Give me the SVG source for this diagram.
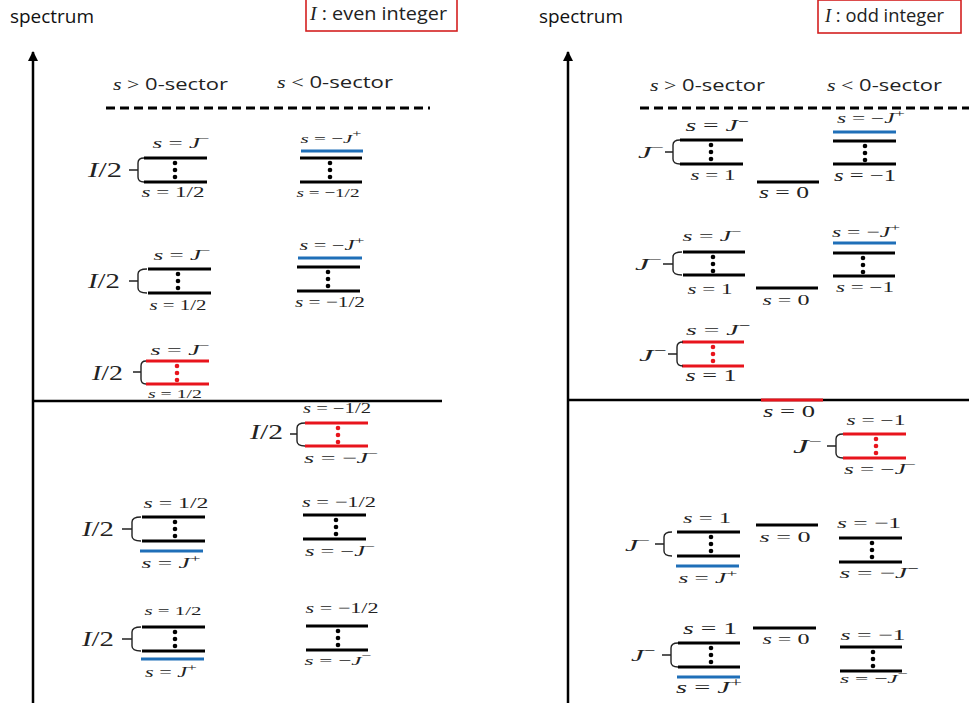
<svg xmlns="http://www.w3.org/2000/svg" width="969" height="706" viewBox="0 0 969 706">
<style>
.lv{stroke:#000;stroke-width:3}
.lb{stroke:#1f6fb8;stroke-width:3}
.lr{stroke:#e8141c;stroke-width:3}
.d{fill:#000}
.dr{fill:#e8141c}
.br{fill:none;stroke:#222;stroke-width:1.4}
.ax{stroke:#000;stroke-width:2.5;fill:none}
.dash{stroke:#000;stroke-width:3;stroke-dasharray:9 5}
.m{font-family:"Liberation Serif","Times New Roman",serif;font-style:italic;fill:#222}
.u{font-style:normal}
.c{text-anchor:middle}
.e{text-anchor:end}
.sans{font-family:"Open Sans","Liberation Sans",sans-serif;fill:#111}
.box{fill:none;stroke:#d42020;stroke-width:1.6}
</style>
<defs>
<marker id="arr" viewBox="0 0 10 10" refX="9" refY="5" markerWidth="4" markerHeight="5" orient="auto" markerUnits="strokeWidth">
<path d="M0,0 L10,5 L0,10 z" fill="#000"/>
</marker>
</defs>
<rect width="969" height="706" fill="#fff"/>

<g id="headers">
<text class="sans" x="10" y="23" font-size="18" textLength="84" lengthAdjust="spacingAndGlyphs">spectrum</text>
<rect class="box" x="306" y="-1" width="151" height="32"/>
<text class="m" x="310" y="20" font-size="18" textLength="137" lengthAdjust="spacingAndGlyphs">I<tspan class="u" font-family="Open Sans, Liberation Sans, sans-serif"> : even integer</tspan></text>
<text class="sans" x="539" y="23" font-size="18" textLength="84" lengthAdjust="spacingAndGlyphs">spectrum</text>
<rect class="box" x="818" y="0" width="143" height="33"/>
<text class="m" x="825" y="22" font-size="18" textLength="119" lengthAdjust="spacingAndGlyphs">I<tspan class="u" font-family="Open Sans, Liberation Sans, sans-serif"> : odd integer</tspan></text>
<text class="m" x="113" y="90" font-size="17" textLength="115" lengthAdjust="spacingAndGlyphs">s <tspan class="u">&gt;</tspan><tspan class="u" font-family="Open Sans, Liberation Sans, sans-serif"> 0-sector</tspan></text>
<text class="m" x="277" y="88" font-size="17" textLength="116" lengthAdjust="spacingAndGlyphs">s <tspan class="u">&lt;</tspan><tspan class="u" font-family="Open Sans, Liberation Sans, sans-serif"> 0-sector</tspan></text>
<text class="m" x="650" y="91" font-size="17" textLength="115" lengthAdjust="spacingAndGlyphs">s <tspan class="u">&gt;</tspan><tspan class="u" font-family="Open Sans, Liberation Sans, sans-serif"> 0-sector</tspan></text>
<text class="m" x="827" y="91" font-size="17" textLength="115" lengthAdjust="spacingAndGlyphs">s <tspan class="u">&lt;</tspan><tspan class="u" font-family="Open Sans, Liberation Sans, sans-serif"> 0-sector</tspan></text>
</g>

<g id="axes">
<line class="ax" x1="33" y1="703" x2="33" y2="52" marker-end="url(#arr)"/>
<line class="ax" x1="33" y1="401" x2="442" y2="401"/>
<line class="dash" x1="106" y1="108" x2="430" y2="108"/>
<line class="ax" x1="568" y1="703" x2="568" y2="52" marker-end="url(#arr)"/>
<line class="ax" x1="568" y1="400" x2="969" y2="400"/>
<line class="dash" x1="640" y1="108" x2="969" y2="108"/>
</g>

<!-- LEFT PANEL -->
<g id="L1">
<line class="lv" x1="144" y1="158" x2="207" y2="158"/><line class="lv" x1="144" y1="182" x2="207" y2="182"/>
<circle class="d" cx="175" cy="163" r="2.3"/><circle class="d" cx="175" cy="170" r="2.3"/><circle class="d" cx="175" cy="177" r="2.3"/>
<path class="br" d="M144,158 Q138,158 138,163 V177 Q138,182 144,182 M138,170 H129"/>
<text class="m" x="88" y="177" font-size="21" textLength="34" lengthAdjust="spacingAndGlyphs">I<tspan class="u">/2</tspan></text>
<text class="m c" x="181" y="148" font-size="15" textLength="57" lengthAdjust="spacingAndGlyphs">s <tspan class="u">=</tspan> J<tspan class="u" font-size="10" dy="-6">−</tspan></text>
<text class="m c" x="173" y="197" font-size="15" textLength="63" lengthAdjust="spacingAndGlyphs">s <tspan class="u">= 1/2</tspan></text>
</g>
<g id="R1">
<line class="lb" x1="301" y1="151" x2="363" y2="151"/>
<line class="lv" x1="300" y1="158" x2="362" y2="158"/><line class="lv" x1="300" y1="182" x2="362" y2="182"/>
<circle class="d" cx="330" cy="163" r="2.3"/><circle class="d" cx="330" cy="170" r="2.3"/><circle class="d" cx="330" cy="177" r="2.3"/>
<text class="m c" x="331" y="143" font-size="13" textLength="61" lengthAdjust="spacingAndGlyphs">s <tspan class="u">= −</tspan>J<tspan class="u" font-size="10" dy="-6">+</tspan></text>
<text class="m c" x="328" y="197" font-size="13" textLength="63" lengthAdjust="spacingAndGlyphs">s <tspan class="u">= −1/2</tspan></text>
</g>
<g id="L2">
<line class="lv" x1="148" y1="269" x2="211" y2="269"/><line class="lv" x1="148" y1="293" x2="211" y2="293"/>
<circle class="d" cx="178" cy="274" r="2.3"/><circle class="d" cx="178" cy="281" r="2.3"/><circle class="d" cx="178" cy="288" r="2.3"/>
<path class="br" d="M147,269 Q138,269 138,274 V288 Q138,293 147,293 M138,281 H129"/>
<text class="m" x="88" y="288" font-size="21" textLength="32" lengthAdjust="spacingAndGlyphs">I<tspan class="u">/2</tspan></text>
<text class="m c" x="182" y="260" font-size="15" textLength="57" lengthAdjust="spacingAndGlyphs">s <tspan class="u">=</tspan> J<tspan class="u" font-size="10" dy="-6">−</tspan></text>
<text class="m c" x="178" y="310" font-size="14" textLength="57" lengthAdjust="spacingAndGlyphs">s <tspan class="u">= 1/2</tspan></text>
</g>
<g id="R2">
<line class="lb" x1="298" y1="258" x2="362" y2="258"/>
<line class="lv" x1="297" y1="267" x2="360" y2="267"/><line class="lv" x1="297" y1="291" x2="360" y2="291"/>
<circle class="d" cx="328" cy="272" r="2.3"/><circle class="d" cx="328" cy="279" r="2.3"/><circle class="d" cx="328" cy="286" r="2.3"/>
<text class="m c" x="332" y="250" font-size="14" textLength="65" lengthAdjust="spacingAndGlyphs">s <tspan class="u">= −</tspan>J<tspan class="u" font-size="11" dy="-6">+</tspan></text>
<text class="m c" x="330" y="307" font-size="15" textLength="70" lengthAdjust="spacingAndGlyphs">s <tspan class="u">= −1/2</tspan></text>
</g>
<g id="L3">
<line class="lr" x1="146" y1="361" x2="209" y2="361"/><line class="lr" x1="146" y1="384" x2="209" y2="384"/>
<circle class="dr" cx="177" cy="366" r="2.3"/><circle class="dr" cx="177" cy="373" r="2.3"/><circle class="dr" cx="177" cy="380" r="2.3"/>
<path class="br" d="M146,361 Q141,361 141,366 V379 Q141,384 146,384 M141,372 H133"/>
<text class="m" x="92" y="380" font-size="21" textLength="31" lengthAdjust="spacingAndGlyphs">I<tspan class="u">/2</tspan></text>
<text class="m c" x="180" y="355" font-size="15" textLength="59" lengthAdjust="spacingAndGlyphs">s <tspan class="u">=</tspan> J<tspan class="u" font-size="10" dy="-6">−</tspan></text>
<text class="m c" x="175" y="398" font-size="13" textLength="54" lengthAdjust="spacingAndGlyphs">s <tspan class="u">= 1/2</tspan></text>
</g>
<g id="R3">
<line class="lr" x1="305" y1="423" x2="368" y2="423"/><line class="lr" x1="305" y1="446" x2="368" y2="446"/>
<circle class="dr" cx="338" cy="428" r="2.3"/><circle class="dr" cx="338" cy="435" r="2.3"/><circle class="dr" cx="338" cy="442" r="2.3"/>
<path class="br" d="M305,423 Q297,423 297,428 V441 Q297,446 305,446 M297,434 H290"/>
<text class="m" x="250" y="439" font-size="21" textLength="33" lengthAdjust="spacingAndGlyphs">I<tspan class="u">/2</tspan></text>
<text class="m c" x="337" y="413" font-size="14" textLength="68" lengthAdjust="spacingAndGlyphs">s <tspan class="u">= −1/2</tspan></text>
<text class="m c" x="341" y="463" font-size="15" textLength="74" lengthAdjust="spacingAndGlyphs">s <tspan class="u">= −</tspan>J<tspan class="u" font-size="10" dy="-6">−</tspan></text>
</g>
<g id="L4">
<line class="lv" x1="142" y1="517" x2="205" y2="517"/><line class="lv" x1="142" y1="541" x2="205" y2="541"/>
<line class="lb" x1="140" y1="551" x2="203" y2="551"/>
<circle class="d" cx="175" cy="522" r="2.3"/><circle class="d" cx="175" cy="529" r="2.3"/><circle class="d" cx="175" cy="536" r="2.3"/>
<path class="br" d="M141,517 Q132,517 132,522 V536 Q132,541 141,541 M132,529 H122"/>
<text class="m" x="82" y="536" font-size="21" textLength="32" lengthAdjust="spacingAndGlyphs">I<tspan class="u">/2</tspan></text>
<text class="m c" x="176" y="508" font-size="15" textLength="65" lengthAdjust="spacingAndGlyphs">s <tspan class="u">= 1/2</tspan></text>
<text class="m c" x="171" y="568" font-size="15" textLength="59" lengthAdjust="spacingAndGlyphs">s <tspan class="u">=</tspan> J<tspan class="u" font-size="11" dy="-6">+</tspan></text>
</g>
<g id="R4">
<line class="lv" x1="303" y1="515" x2="366" y2="515"/><line class="lv" x1="303" y1="539" x2="366" y2="539"/>
<circle class="d" cx="336" cy="520" r="2.3"/><circle class="d" cx="336" cy="527" r="2.3"/><circle class="d" cx="336" cy="534" r="2.3"/>
<text class="m c" x="339" y="507" font-size="15" textLength="74" lengthAdjust="spacingAndGlyphs">s <tspan class="u">= −1/2</tspan></text>
<text class="m c" x="340" y="556" font-size="14" textLength="70" lengthAdjust="spacingAndGlyphs">s <tspan class="u">= −</tspan>J<tspan class="u" font-size="10" dy="-6">−</tspan></text>
</g>
<g id="L5">
<line class="lv" x1="142" y1="627" x2="205" y2="627"/><line class="lv" x1="142" y1="651" x2="205" y2="651"/>
<line class="lb" x1="141" y1="659" x2="204" y2="659"/>
<circle class="d" cx="175" cy="632" r="2.3"/><circle class="d" cx="175" cy="639" r="2.3"/><circle class="d" cx="175" cy="646" r="2.3"/>
<path class="br" d="M141,627 Q132,627 132,632 V646 Q132,651 141,651 M132,639 H122"/>
<text class="m" x="82" y="646" font-size="21" textLength="32" lengthAdjust="spacingAndGlyphs">I<tspan class="u">/2</tspan></text>
<text class="m c" x="173" y="615" font-size="13" textLength="57" lengthAdjust="spacingAndGlyphs">s <tspan class="u">= 1/2</tspan></text>
<text class="m c" x="171" y="677" font-size="14" textLength="52" lengthAdjust="spacingAndGlyphs">s <tspan class="u">=</tspan> J<tspan class="u" font-size="11" dy="-6">+</tspan></text>
</g>
<g id="R5">
<line class="lv" x1="306" y1="626" x2="368" y2="626"/><line class="lv" x1="306" y1="650" x2="368" y2="650"/>
<circle class="d" cx="338" cy="631" r="2.3"/><circle class="d" cx="338" cy="638" r="2.3"/><circle class="d" cx="338" cy="645" r="2.3"/>
<text class="m c" x="342" y="613" font-size="15" textLength="73" lengthAdjust="spacingAndGlyphs">s <tspan class="u">= −1/2</tspan></text>
<text class="m c" x="338" y="665" font-size="13" textLength="67" lengthAdjust="spacingAndGlyphs">s <tspan class="u">= −</tspan>J<tspan class="u" font-size="10" dy="-6">−</tspan></text>
</g>

<!-- RIGHT PANEL -->
<g id="RL1">
<line class="lv" x1="680" y1="140" x2="743" y2="140"/><line class="lv" x1="680" y1="164" x2="743" y2="164"/>
<circle class="d" cx="711" cy="145" r="2.3"/><circle class="d" cx="711" cy="152" r="2.3"/><circle class="d" cx="711" cy="159" r="2.3"/>
<path class="br" d="M680,140 Q673,140 673,145 V159 Q673,164 680,164 M673,152 H665"/>
<text class="m" x="638" y="158" font-size="17" textLength="26" lengthAdjust="spacingAndGlyphs">J<tspan class="u" font-size="12" dy="-7">−</tspan></text>
<text class="m c" x="717" y="131" font-size="16" textLength="63" lengthAdjust="spacingAndGlyphs">s <tspan class="u">=</tspan> J<tspan class="u" font-size="11" dy="-6">−</tspan></text>
<text class="m c" x="713" y="180" font-size="15" textLength="45" lengthAdjust="spacingAndGlyphs">s <tspan class="u">= 1</tspan></text>
</g>
<g id="RM1">
<line class="lv" x1="757" y1="182" x2="819" y2="182"/>
<text class="m c" x="784" y="198" font-size="16" textLength="50" lengthAdjust="spacingAndGlyphs">s <tspan class="u">= 0</tspan></text>
</g>
<g id="RR1">
<line class="lb" x1="833" y1="132" x2="896" y2="132"/>
<line class="lv" x1="833" y1="141" x2="896" y2="141"/><line class="lv" x1="833" y1="164" x2="896" y2="164"/>
<circle class="d" cx="865" cy="146" r="2.3"/><circle class="d" cx="865" cy="153" r="2.3"/><circle class="d" cx="865" cy="160" r="2.3"/>
<text class="m c" x="871" y="123" font-size="14" textLength="68" lengthAdjust="spacingAndGlyphs">s <tspan class="u">= −</tspan>J<tspan class="u" font-size="11" dy="-6">+</tspan></text>
<text class="m c" x="865" y="181" font-size="16" textLength="62" lengthAdjust="spacingAndGlyphs">s <tspan class="u">= −1</tspan></text>
</g>
<g id="RL2">
<line class="lv" x1="683" y1="252" x2="745" y2="252"/><line class="lv" x1="683" y1="275" x2="745" y2="275"/>
<circle class="d" cx="713" cy="257" r="2.3"/><circle class="d" cx="713" cy="264" r="2.3"/><circle class="d" cx="713" cy="271" r="2.3"/>
<path class="br" d="M682,252 Q673,252 673,257 V270 Q673,275 682,275 M673,264 H663"/>
<text class="m" x="635" y="270" font-size="17" textLength="27" lengthAdjust="spacingAndGlyphs">J<tspan class="u" font-size="12" dy="-7">−</tspan></text>
<text class="m c" x="712" y="241" font-size="14" textLength="59" lengthAdjust="spacingAndGlyphs">s <tspan class="u">=</tspan> J<tspan class="u" font-size="10" dy="-6">−</tspan></text>
<text class="m c" x="710" y="294" font-size="15" textLength="45" lengthAdjust="spacingAndGlyphs">s <tspan class="u">= 1</tspan></text>
</g>
<g id="RM2">
<line class="lv" x1="756" y1="288" x2="818" y2="288"/>
<text class="m c" x="786" y="305" font-size="15" textLength="47" lengthAdjust="spacingAndGlyphs">s <tspan class="u">= 0</tspan></text>
</g>
<g id="RR2">
<line class="lb" x1="833" y1="243" x2="896" y2="243"/>
<line class="lv" x1="833" y1="253" x2="895" y2="253"/><line class="lv" x1="833" y1="276" x2="895" y2="276"/>
<circle class="d" cx="863" cy="258" r="2.3"/><circle class="d" cx="863" cy="265" r="2.3"/><circle class="d" cx="863" cy="272" r="2.3"/>
<text class="m c" x="866" y="237" font-size="15" textLength="68" lengthAdjust="spacingAndGlyphs">s <tspan class="u">= −</tspan>J<tspan class="u" font-size="11" dy="-6">+</tspan></text>
<text class="m c" x="865" y="292" font-size="14" textLength="58" lengthAdjust="spacingAndGlyphs">s <tspan class="u">= −1</tspan></text>
</g>
<g id="RL3">
<line class="lr" x1="682" y1="342" x2="744" y2="342"/><line class="lr" x1="682" y1="366" x2="744" y2="366"/>
<circle class="dr" cx="713" cy="347" r="2.3"/><circle class="dr" cx="713" cy="354" r="2.3"/><circle class="dr" cx="713" cy="361" r="2.3"/>
<path class="br" d="M683,342 Q677,342 677,347 V361 Q677,366 683,366 M677,354 H668"/>
<text class="m" x="639" y="361" font-size="16" textLength="27" lengthAdjust="spacingAndGlyphs">J<tspan class="u" font-size="11" dy="-7">−</tspan></text>
<text class="m c" x="718" y="335" font-size="15" textLength="64" lengthAdjust="spacingAndGlyphs">s <tspan class="u">=</tspan> J<tspan class="u" font-size="11" dy="-6">−</tspan></text>
<text class="m c" x="711" y="381" font-size="16" textLength="51" lengthAdjust="spacingAndGlyphs">s <tspan class="u">= 1</tspan></text>
</g>
<g id="RM3">
<line class="lr" x1="761" y1="400" x2="823" y2="400"/>
<text class="m c" x="789" y="417" font-size="16" textLength="52" lengthAdjust="spacingAndGlyphs">s <tspan class="u">= 0</tspan></text>
</g>
<g id="RR3">
<line class="lr" x1="843" y1="434" x2="906" y2="434"/><line class="lr" x1="843" y1="458" x2="906" y2="458"/>
<circle class="dr" cx="876" cy="439" r="2.3"/><circle class="dr" cx="876" cy="446" r="2.3"/><circle class="dr" cx="876" cy="453" r="2.3"/>
<path class="br" d="M843,434 Q836,434 836,439 V453 Q836,458 843,458 M836,446 H827"/>
<text class="m" x="793" y="453" font-size="18" textLength="29" lengthAdjust="spacingAndGlyphs">J<tspan class="u" font-size="12" dy="-8">−</tspan></text>
<text class="m c" x="876" y="425" font-size="14" textLength="59" lengthAdjust="spacingAndGlyphs">s <tspan class="u">= −1</tspan></text>
<text class="m c" x="880" y="474" font-size="14" textLength="72" lengthAdjust="spacingAndGlyphs">s <tspan class="u">= −</tspan>J<tspan class="u" font-size="10" dy="-6">−</tspan></text>
</g>
<g id="RL4">
<line class="lv" x1="677" y1="532" x2="740" y2="532"/><line class="lv" x1="677" y1="556" x2="740" y2="556"/>
<line class="lb" x1="676" y1="566" x2="739" y2="566"/>
<circle class="d" cx="711" cy="537" r="2.3"/><circle class="d" cx="711" cy="544" r="2.3"/><circle class="d" cx="711" cy="551" r="2.3"/>
<path class="br" d="M672,532 Q664,532 664,537 V551 Q664,556 672,556 M664,544 H655"/>
<text class="m" x="625" y="551" font-size="17" textLength="25" lengthAdjust="spacingAndGlyphs">J<tspan class="u" font-size="12" dy="-7">−</tspan></text>
<text class="m c" x="707" y="523" font-size="15" textLength="48" lengthAdjust="spacingAndGlyphs">s <tspan class="u">= 1</tspan></text>
<text class="m c" x="708" y="583" font-size="14" textLength="59" lengthAdjust="spacingAndGlyphs">s <tspan class="u">=</tspan> J<tspan class="u" font-size="11" dy="-6">+</tspan></text>
</g>
<g id="RM4">
<line class="lv" x1="756" y1="525" x2="818" y2="525"/>
<text class="m c" x="785" y="542" font-size="15" textLength="51" lengthAdjust="spacingAndGlyphs">s <tspan class="u">= 0</tspan></text>
</g>
<g id="RR4">
<line class="lv" x1="839" y1="538" x2="902" y2="538"/><line class="lv" x1="839" y1="562" x2="902" y2="562"/>
<circle class="d" cx="872" cy="543" r="2.3"/><circle class="d" cx="872" cy="550" r="2.3"/><circle class="d" cx="872" cy="557" r="2.3"/>
<text class="m c" x="869" y="528" font-size="15" textLength="64" lengthAdjust="spacingAndGlyphs">s <tspan class="u">= −1</tspan></text>
<text class="m c" x="879" y="578" font-size="15" textLength="79" lengthAdjust="spacingAndGlyphs">s <tspan class="u">= −</tspan>J<tspan class="u" font-size="11" dy="-6">−</tspan></text>
</g>
<g id="RL5">
<line class="lv" x1="678" y1="643" x2="740" y2="643"/><line class="lv" x1="678" y1="667" x2="740" y2="667"/>
<line class="lb" x1="677" y1="677" x2="740" y2="677"/>
<circle class="d" cx="711" cy="648" r="2.3"/><circle class="d" cx="711" cy="655" r="2.3"/><circle class="d" cx="711" cy="662" r="2.3"/>
<path class="br" d="M678,643 Q671,643 671,648 V662 Q671,667 678,667 M671,655 H662"/>
<text class="m" x="631" y="661" font-size="16" textLength="24" lengthAdjust="spacingAndGlyphs">J<tspan class="u" font-size="11" dy="-7">−</tspan></text>
<text class="m c" x="710" y="634" font-size="17" textLength="54" lengthAdjust="spacingAndGlyphs">s <tspan class="u">= 1</tspan></text>
<text class="m c" x="709" y="693" font-size="16" textLength="66" lengthAdjust="spacingAndGlyphs">s <tspan class="u">=</tspan> J<tspan class="u" font-size="12" dy="-6">+</tspan></text>
</g>
<g id="RM5">
<line class="lv" x1="753" y1="628" x2="816" y2="628"/>
<text class="m c" x="786" y="644" font-size="14" textLength="47" lengthAdjust="spacingAndGlyphs">s <tspan class="u">= 0</tspan></text>
</g>
<g id="RR5">
<line class="lv" x1="840" y1="647" x2="902" y2="647"/><line class="lv" x1="840" y1="671" x2="902" y2="671"/>
<circle class="d" cx="873" cy="652" r="2.3"/><circle class="d" cx="873" cy="659" r="2.3"/><circle class="d" cx="873" cy="666" r="2.3"/>
<text class="m c" x="873" y="640" font-size="15" textLength="65" lengthAdjust="spacingAndGlyphs">s <tspan class="u">= −1</tspan></text>
<text class="m c" x="874" y="683" font-size="13" textLength="68" lengthAdjust="spacingAndGlyphs">s <tspan class="u">= −</tspan>J<tspan class="u" font-size="10" dy="-6">−</tspan></text>
</g>
</svg>
